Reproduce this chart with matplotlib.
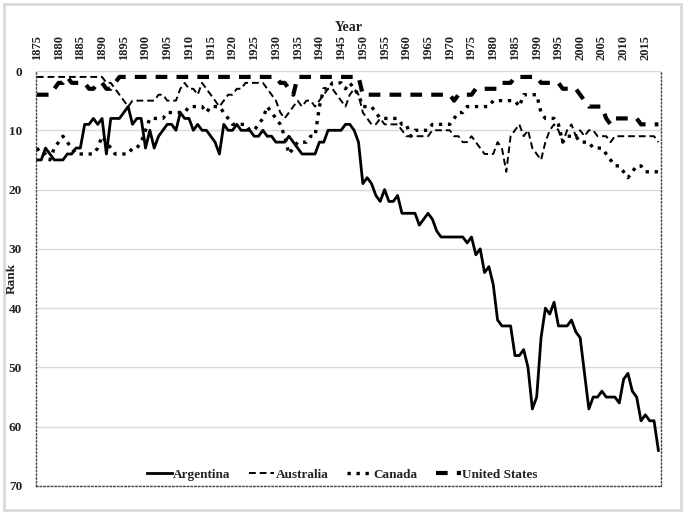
import matplotlib
matplotlib.use('Agg')
import matplotlib.pyplot as plt
from matplotlib.patches import Rectangle

years = list(range(1875, 2019))

argentina = [15, 15, 13, 14, 15, 15, 15, 14, 14, 13,
             13, 9, 9, 8, 9, 8, 14, 8, 8, 8,
             7, 6, 9, 8, 8, 13, 10, 13, 11, 10,
             9, 9, 10, 7, 8, 8, 10, 9, 10, 10,
             11, 12, 14, 9, 10, 10, 9, 10, 10, 10,
             11, 11, 10, 11, 11, 12, 12, 12, 11, 12,
             13, 14, 14, 14, 14, 12, 12, 10, 10, 10,
             10, 9, 9, 10, 12, 19, 18, 19, 21, 22,
             20, 22, 22, 21, 24, 24, 24, 24, 26, 25,
             24, 25, 27, 28, 28, 28, 28, 28, 28, 29,
             28, 31, 30, 34, 33, 36, 42, 43, 43, 43,
             48, 48, 47, 50, 57, 55, 45, 40, 41, 39,
             43, 43, 43, 42, 44, 45, 51, 57, 55, 55,
             54, 55, 55, 55, 56, 52, 51, 54, 55, 59,
             58, 59, 59, 64]

australia = [1, 1, 1, 1, 1, 1, 1, 1, 1, 1,
             1, 1, 1, 1, 1, 1, 2, 2, 3, 4,
             5, 6, 5, 5, 5, 5, 5, 5, 4, 4,
             5, 5, 5, 3, 2, 3, 3, 4, 2, 3,
             4, 5, 6, 5, 4, 4, 3, 3, 2, 2,
             2, 2, 2, 3, 4, 5, 7, 8, 7, 6,
             5, 6, 5, 5, 6, 5, 4, 3, 3, 4,
             5, 6, 4, 3, 4, 7, 8, 9, 9, 8,
             9, 9, 9, 9, 10, 11, 11, 11, 11, 11,
             11, 10, 10, 10, 10, 10, 11, 11, 12, 12,
             11, 12, 13, 14, 14, 14, 12, 13, 17, 11,
             10, 9, 11, 10, 13, 14, 15, 12, 10, 9,
             10, 12, 10, 9, 11, 10, 11, 10, 10, 11,
             11, 11, 12, 11, 11, 11, 11, 11, 11, 11,
             11, 11, 11, 12]

canada = [13, 14, 14, 15, 13, 12, 11, 12, 13, 14,
          14, 14, 14, 14, 13, 11, 12, 13, 14, 14,
          14, 14, 13, 13, 12, 10, 8, 8, 8, 8,
          7, 7, 7, 7, 7, 6, 6, 6, 6, 7,
          6, 6, 6, 7, 8, 9, 9, 9, 9, 10,
          10, 9, 8, 6, 7, 8, 9, 11, 14, 13,
          12, 12, 12, 11, 11, 6, 3, 3, 2, 2,
          2, 3, 2, 3, 4, 6, 6, 6, 7, 8,
          8, 8, 8, 8, 9, 9, 11, 10, 10, 10,
          10, 9, 9, 9, 9, 9, 8, 7, 7, 6,
          6, 6, 6, 6, 6, 5, 5, 5, 5, 5,
          5, 6, 4, 4, 4, 4, 7, 8, 8, 8,
          9, 12, 11, 11, 11, 12, 12, 12, 13, 13,
          13, 14, 15, 16, 16, 17, 18, 17, 16, 16,
          17, 17, 17, 17]

united_states = [4, 4, 4, 4, 3, 2, 2, 1, 2, 2,
                 2, 2, 3, 3, 2, 2, 3, 3, 2, 1,
                 1, 1, 1, 1, 1, 1, 1, 1, 1, 1,
                 1, 1, 1, 1, 1, 1, 1, 1, 1, 1,
                 1, 1, 1, 1, 1, 1, 1, 1, 1, 1,
                 1, 1, 1, 1, 1, 1, 2, 2, 3, 4,
                 1, 1, 1, 1, 1, 1, 1, 1, 1, 1,
                 1, 1, 1, 1, 1, 4, 4, 4, 4, 4,
                 4, 4, 4, 4, 4, 4, 4, 4, 4, 4,
                 4, 4, 4, 4, 4, 4, 5, 4, 4, 4,
                 4, 3, 3, 3, 3, 3, 3, 2, 2, 2,
                 1, 1, 1, 1, 1, 1, 2, 2, 2, 2,
                 2, 3, 3, 3, 3, 4, 5, 6, 6, 6,
                 6, 8, 9, 8, 8, 8, 8, 8, 8, 9,
                 9, 9, 9, 9]

year_ticks = list(range(1875, 2016, 5))
rank_ticks = list(range(0, 71, 10))

txt = '#222222'
plt.rcParams['font.family'] = ['Liberation Serif', 'DejaVu Serif']
plt.rcParams['font.weight'] = 'bold'

fig = plt.figure(figsize=(6.85, 5.14), dpi=100)
fig.patches.append(Rectangle((0.006, 0.008), 0.988, 0.984, transform=fig.transFigure,
                             fill=False, edgecolor='#d9d9d9', linewidth=2))
ax = fig.add_axes([36/685, 1-486/514, 625/685, 415/514])

ax.plot(years, argentina, color='black', lw=2, label='Argentina')
ax.plot(years, australia, color='black', lw=1.4, ls=(0, (3.5, 2)), label='Australia')
ax.plot(years, canada, color='black', lw=2.4, ls=(0, (1, 1.7)), label='Canada')
ax.plot(years, united_states, color='black', lw=3, ls=(0, (2.8, 2.2)), label='United States')

ax.set_xlim(1874.8, 2018.6)
ax.set_ylim(70, 0)
ax.set_yticks(rank_ticks)
ax.set_xticks(year_ticks)
ax.xaxis.tick_top()
ax.xaxis.set_label_position('top')
ax.tick_params(axis='x', length=0, pad=8, labelsize=9, labelcolor=txt, labelrotation=90)
ax.tick_params(axis='y', length=0, pad=10, labelsize=9.5, labelcolor=txt)
for lab in ax.get_xticklabels() + ax.get_yticklabels():
    lab.set_fontweight('bold')

ax.set_xlabel('Year', fontsize=10, fontweight='bold', color=txt, labelpad=3)
ax.set_ylabel('Rank', fontsize=9.5, fontweight='bold', color=txt)
ax.yaxis.set_label_coords(-0.030, 0.5)

ax.grid(True, axis='y', color='#d9d9d9', lw=1)
ax.set_axisbelow(True)
ax.spines['top'].set_visible(False)
for s in ['left', 'right', 'bottom']:
    ax.spines[s].set_linestyle(':')
    ax.spines[s].set_color('#444444')
    ax.spines[s].set_linewidth(1)

leg = ax.legend(loc='lower center', bbox_to_anchor=(0.49, -0.016), ncol=4, frameon=False,
                handlelength=1.9, handletextpad=0.1, columnspacing=1.4,
                prop={'weight': 'bold', 'size': 9.5})
for t in leg.get_texts():
    t.set_color(txt)

fig.savefig('out.png', dpi=100)
